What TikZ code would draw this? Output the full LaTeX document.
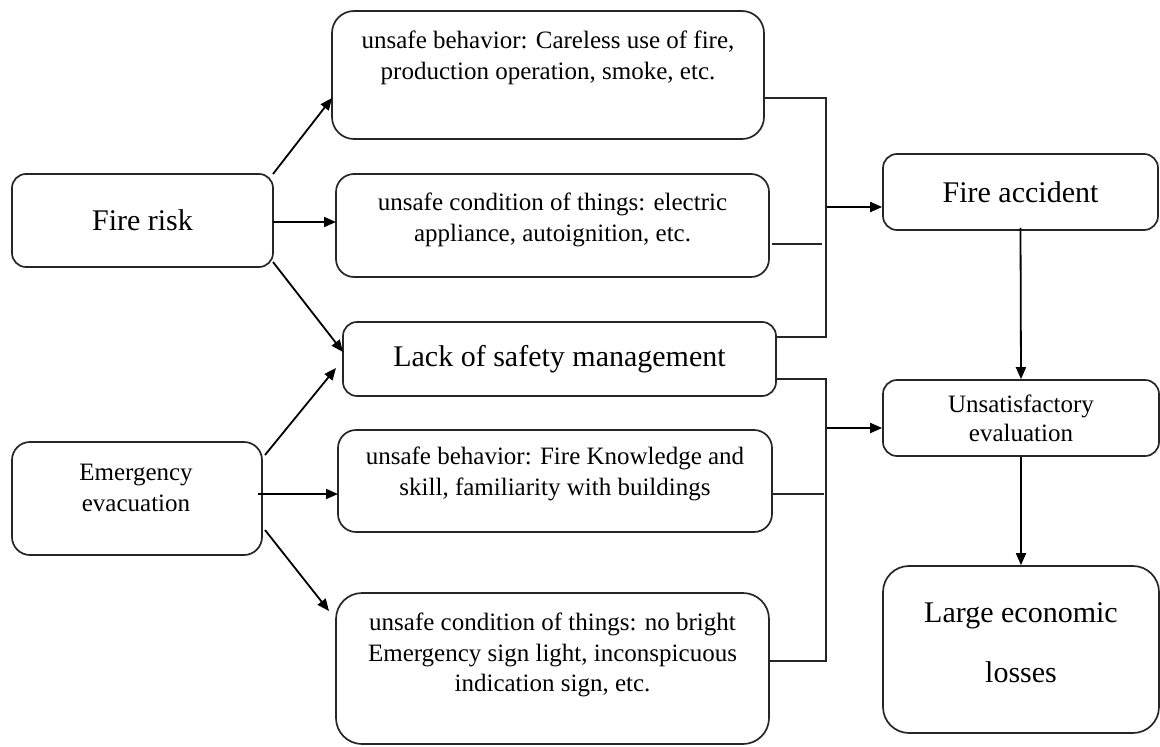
\documentclass[tikz,border=0pt]{standalone}
\usepackage{fontspec}
\setmainfont{Liberation Serif}
\usetikzlibrary{arrows.meta}
\begin{document}
\begin{tikzpicture}[x=1pt,y=-1pt,
  box/.style={draw=black!85, line width=1.7pt, rounded corners=#1, inner sep=0pt, align=center},
  box/.default=12pt,
  txt/.style={inner sep=0pt, align=center},
  small/.style={font=\fontsize{25}{30.5}\selectfont},
  big/.style={font=\fontsize{30}{36}\selectfont},
  arr/.style={line width=1.8pt, -{Triangle[length=12pt,width=10pt]}},
  ln/.style={line width=1.8pt, draw=black!85}
]
\useasboundingbox (0,0) rectangle (1160,747);

% boxes
\node[box=14pt, big, minimum width=261pt, minimum height=93pt] (fr) at (142.5,220.5) {Fire risk};
\node[box=22pt, minimum width=432pt, minimum height=128pt] (b1) at (548,75) {};
\node[txt, small] (t1) at (548,58) {unsafe behavior: Careless use of fire,\\production operation, smoke, etc.};
\node[box=18pt, minimum width=433pt, minimum height=103pt] (b2) at (552.5,225.5) {};
\node[txt, small] (t2) at (552.5,220) {unsafe condition of things: electric\\appliance, autoignition, etc.};
\node[box=14pt, big, minimum width=433pt, minimum height=74pt] (lk) at (559.5,359) {Lack of safety management};
\node[box=18pt, minimum width=250pt, minimum height=113pt] (em) at (137,498.5) {};
\node[txt, small] (te) at (136,488) {Emergency\\evacuation};
\node[box=18pt, minimum width=434pt, minimum height=102pt] (b4) at (555,481) {};
\node[txt, small] (t4) at (555,474) {unsafe behavior: Fire Knowledge and\\skill, familiarity with buildings};
\node[box=26pt, minimum width=433pt, minimum height=151pt] (b5) at (552.5,668.5) {};
\node[txt, small] (t5) at (552.5,655) {unsafe condition of things: no bright\\Emergency sign light, inconspicuous\\indication sign, etc.};
\node[box=14pt, big, minimum width=275pt, minimum height=76pt] (fa) at (1020.5,192) {Fire accident};
\node[box=14pt, font=\fontsize{25}{29}\selectfont, minimum width=276pt, minimum height=76pt] (us) at (1021,418) {Unsatisfactory\\evaluation};
\node[box=26pt, minimum width=276pt, minimum height=167pt] (lg) at (1021,649.5) {};
\node[txt, font=\fontsize{30}{60}\selectfont] (tl) at (1021,643) {Large economic\\losses};

% coordinates
\coordinate (a1s) at (273,174); \coordinate (a1e) at (332,98);
\coordinate (a2s) at (273,222); \coordinate (a2e) at (336,222);
\coordinate (a3s) at (273,262); \coordinate (a3e) at (343,352);
\coordinate (a4s) at (265,455); \coordinate (a4e) at (336,368);
\coordinate (a5s) at (258,494); \coordinate (a5e) at (338,494);
\coordinate (a6s) at (265,530); \coordinate (a6e) at (329,611);
\coordinate (j1) at (826,207);
\coordinate (j2) at (826,428);
\coordinate (c1) at (826,98); \coordinate (c2) at (826,337);
\coordinate (c3) at (826,379); \coordinate (c4) at (826,661);
\coordinate (s2a) at (772,244); \coordinate (s2b) at (822,244);
\coordinate (s4a) at (772,494); \coordinate (s4b) at (824,494);

% arrows
\draw[arr] (a1s) -- (a1e);
\draw[arr] (a2s) -- (a2e);
\draw[arr] (a3s) -- (a3e);
\draw[arr] (a4s) -- (a4e);
\draw[arr] (a5s) -- (a5e);
\draw[arr] (a6s) -- (a6e);
\draw[arr] (j1) -- (j1 -| fa.west);
\draw[arr] (j2) -- (j2 -| us.west);
\draw[arr] ([yshift=3pt]fa.south) -- (us.north);
\draw[arr] (us.south) -- (lg.north);

% collector lines
\draw[ln] (c1 -| b1.east) -- (c1) -- (c2) -- (c2 -| lk.east);
\draw[ln] (c3 -| lk.east) -- (c3) -- (c4) -- (c4 -| b5.east);
\draw[ln] (s2a) -- (s2b);
\draw[ln] (s4a) -- (s4b);
\end{tikzpicture}
\end{document}
